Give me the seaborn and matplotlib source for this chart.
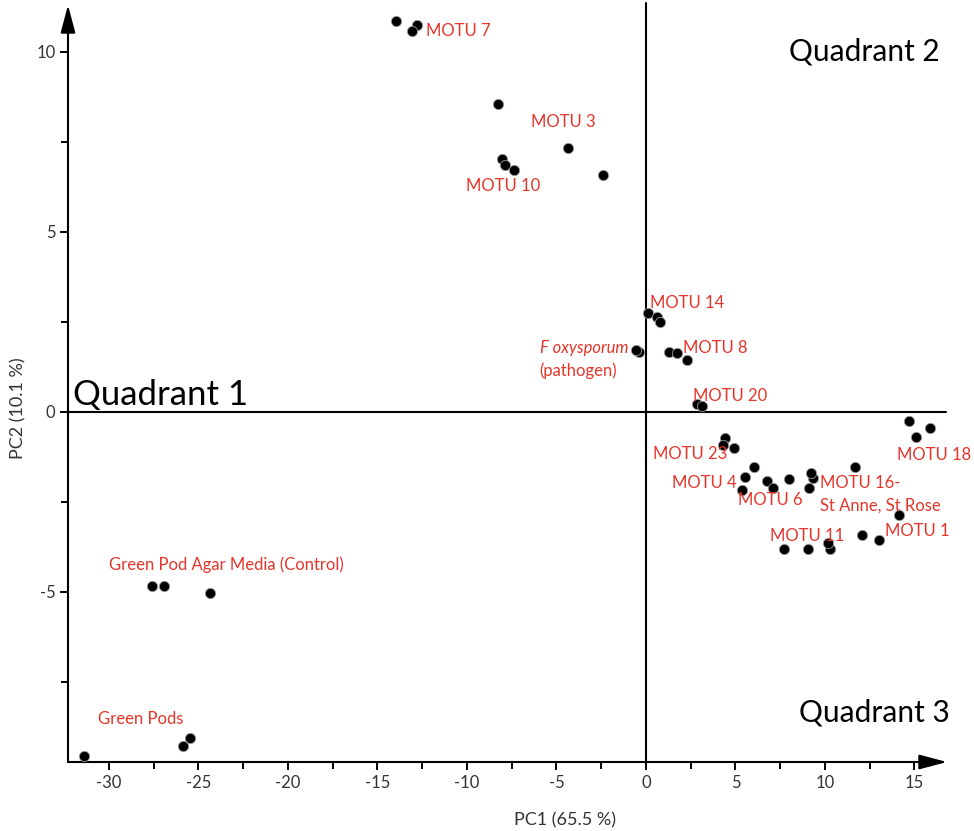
import matplotlib
matplotlib.use("Agg")
import matplotlib.pyplot as plt
from matplotlib.ticker import MultipleLocator
import seaborn as sns
import pandas as pd

# PCA scores (PC1, PC2) for each sample
pc1 = [-13.97, -12.81, -13.06, -8.29, -4.37, -8.04, -7.88, -7.36, -2.38,
       0.13, 0.63, 0.78, -0.39, -0.55, 1.28, 1.71, 2.31, 2.83, 3.11,
       14.71, 15.87, 15.08, 4.43, 4.30, 4.90, 6.03, 5.55, 5.36,
       6.76, 7.08, 8.01, 9.31, 9.20, 9.12, 11.69, 14.15, 12.07, 13.00,
       7.71, 9.05, 10.28, 10.15,
       -27.58, -26.91, -24.36, -31.38, -25.88, -25.47]
pc2 = [10.86, 10.74, 10.58, 8.56, 7.33, 7.02, 6.86, 6.71, 6.58,
       2.75, 2.62, 2.49, 1.67, 1.72, 1.67, 1.62, 1.43, 0.21, 0.16,
       -0.26, -0.45, -0.69, -0.72, -0.91, -1.02, -1.53, -1.82, -2.16,
       -1.91, -2.11, -1.87, -1.85, -1.69, -2.11, -1.53, -2.87, -3.43, -3.56,
       -3.80, -3.80, -3.80, -3.64,
       -4.84, -4.84, -5.03, -9.56, -9.28, -9.05]

# Group annotations: text and anchor (PC1, PC2)
group_labels = ["MOTU 7", "MOTU 3", "MOTU 10", "MOTU 14", "MOTU 8", "MOTU 20",
                "MOTU 23", "MOTU 4", "MOTU 6", "MOTU 16-", "St Anne, St Rose",
                "MOTU 18", "MOTU 11", "MOTU 1",
                "Green Pod Agar Media (Control)", "Green Pods"]
label_x = [-12.29, -6.42, -10.06, 0.22, 2.07, 2.63, 0.39, 1.45, 5.14, 9.75, 9.75,
           14.02, 6.93, 13.35, -30.0, -30.6]
label_y = [10.57, 8.05, 6.27, 3.02, 1.77, 0.44, -1.16, -1.98, -2.45, -1.98, -2.62,
           -1.21, -3.45, -3.31, -4.26, -8.54]

quadrant_names = ["Quadrant 1", "Quadrant 2", "Quadrant 3"]
quadrant_x = [-32.0, 8.0, 8.55]
quadrant_y = [0.46, 10.0, -8.35]
quadrant_size = [25, 21.5, 21.5]

RED = "#e5352b"
GREY_TEXT = "#333333"

sns.set_theme(style="white")
plt.rcParams["font.family"] = ["Lato", "DejaVu Sans"]

fig = plt.figure(figsize=(9.74, 8.31), dpi=100)
W, H = 974, 831
ax = fig.add_axes([68 / W, 1 - 762 / H, (947 - 68) / W, (762 - 5) / H])

df = pd.DataFrame({"PC1": pc1, "PC2": pc2})
sns.scatterplot(data=df, x="PC1", y="PC2", ax=ax, color="black", s=55,
                edgecolor="#9a9a9a", linewidth=0.6, zorder=5, clip_on=False)

xmin, xmax = -32.29, 16.82
ymin, ymax = -9.73, 11.30
ax.set_xlim(xmin, xmax)
ax.set_ylim(ymin, ymax)

for s in ax.spines.values():
    s.set_visible(False)

# Axis lines with arrowheads, plus the zero cross lines
arrow = dict(arrowstyle="-|>,head_length=1.7,head_width=0.45", color="black",
             lw=1.5, mutation_scale=10, shrinkA=0, shrinkB=0)
ax.annotate("", xy=(xmax, ymin), xytext=(xmin, ymin), arrowprops=arrow,
            annotation_clip=False)
ax.annotate("", xy=(xmin, ymax), xytext=(xmin, ymin), arrowprops=arrow,
            annotation_clip=False)
ax.plot([0, 0], [ymin, 11.35], color="black", lw=1.5, zorder=3, clip_on=False)
ax.plot([xmin, 16.75], [0, 0], color="black", lw=1.5, zorder=3, clip_on=False)

ax.xaxis.set_major_locator(MultipleLocator(5))
ax.xaxis.set_minor_locator(MultipleLocator(2.5))
ax.yaxis.set_major_locator(MultipleLocator(5))
ax.yaxis.set_minor_locator(MultipleLocator(2.5))
ax.tick_params(axis="both", which="major", direction="out", length=6, width=1.4,
               color="black", labelsize=12, labelcolor=GREY_TEXT,
               bottom=True, left=True, pad=3)
ax.tick_params(axis="both", which="minor", direction="out", length=5, width=1.4,
               color="black", bottom=True, left=True)
ax.set_xticklabels([f"{int(v)}" for v in ax.get_xticks()])
ax.set_yticklabels([f"{int(v)}" for v in ax.get_yticks()])
ax.set_xlim(xmin, xmax)
ax.set_ylim(ymin, ymax)
ax.set_xlabel("")
ax.set_ylabel("")

fig.text(565 / W, 1 - 820 / H, "PC1 (65.5 %)", ha="center", va="center",
         fontsize=13, color=GREY_TEXT)
fig.text(18 / W, 1 - 408 / H, "PC2 (10.1 %)", ha="center", va="center",
         rotation=90, fontsize=13, color=GREY_TEXT)

for t, x, y in zip(group_labels, label_x, label_y):
    ax.text(x, y, t, color=RED, fontsize=12, ha="left", va="center", zorder=6)

# Pathogen label (italic species name)
ax.text(-1.0, 1.77, "F oxysporum", color=RED, fontsize=12, style="italic",
        ha="right", va="center", zorder=6)
ax.text(-1.65, 1.15, "(pathogen)", color=RED, fontsize=12,
        ha="right", va="center", zorder=6)

for t, x, y, fs in zip(quadrant_names, quadrant_x, quadrant_y, quadrant_size):
    ax.text(x, y, t, color="black", fontsize=fs, ha="left", va="center", zorder=6)

fig.savefig("out.png", dpi=100)
